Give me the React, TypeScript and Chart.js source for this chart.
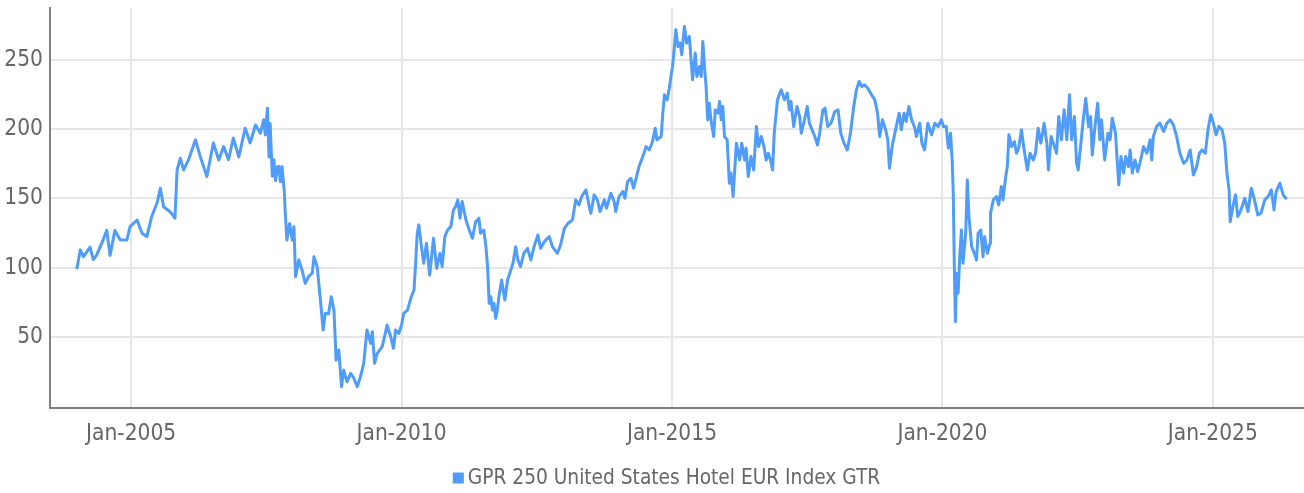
import React, { useEffect, useRef } from "react";
import { Chart, registerables } from "chart.js";

Chart.register(...registerables);

const seriesLabel = "GPR 250 United States Hotel EUR Index GTR";
const xTickYears = [2005, 2010, 2015, 2020, 2025];
const yTickValues = [50, 100, 150, 200, 250];

// dates as decimal years
const dates2004to2011 = [
  2004.0, 2004.06, 2004.12, 2004.24, 2004.3, 2004.36, 2004.46, 2004.55, 2004.61, 2004.7,
  2004.8, 2004.92, 2004.98, 2005.11, 2005.2, 2005.29, 2005.38, 2005.48, 2005.54, 2005.6,
  2005.72, 2005.81, 2005.85, 2005.91, 2005.97, 2006.06, 2006.19, 2006.28, 2006.4, 2006.52,
  2006.62, 2006.71, 2006.8, 2006.89, 2006.99, 2007.11, 2007.2, 2007.3, 2007.39, 2007.45,
  2007.48, 2007.52, 2007.55, 2007.57, 2007.61, 2007.64, 2007.67, 2007.71, 2007.73, 2007.76,
  2007.79, 2007.83, 2007.85, 2007.88, 2007.93, 2007.98, 2008.01, 2008.04, 2008.1, 2008.16,
  2008.22, 2008.28, 2008.35, 2008.38, 2008.44, 2008.5, 2008.55, 2008.59, 2008.65, 2008.7,
  2008.75, 2008.79, 2008.84, 2008.89, 2008.93, 2008.99, 2009.06, 2009.12, 2009.18, 2009.24,
  2009.3, 2009.36, 2009.43, 2009.46, 2009.5, 2009.55, 2009.64, 2009.7, 2009.73, 2009.8,
  2009.85, 2009.89, 2009.95, 2010.0, 2010.04, 2010.11, 2010.17, 2010.23, 2010.26, 2010.29,
  2010.32, 2010.36, 2010.41, 2010.46, 2010.52, 2010.59, 2010.65, 2010.71, 2010.75, 2010.8,
  2010.85, 2010.91, 2010.96, 2011.0, 2011.04, 2011.08, 2011.12, 2011.19, 2011.25, 2011.31,
  2011.37, 2011.43,
];
const values2004to2011 = [
  100, 112.9, 108, 115, 106, 109, 118, 127, 109, 127,
  120, 120, 129.7, 134.5, 125, 122.5, 137, 146.8, 157.4, 144,
  140.5, 135.8, 170.6, 179, 170.6, 177.8, 192.3, 180, 165.8, 190,
  177.8, 187.4, 178, 193.5, 180, 200.7, 190, 203, 197, 206.7,
  195.8, 215, 180, 204, 166, 178, 163, 173, 173, 162,
  173, 156, 139.4, 120, 132, 120, 129.7, 93.7, 105.7, 98.4,
  88.9, 93.7, 96.3, 108, 100.9, 76.8, 55.2, 67.2, 67, 79.2,
  69.6, 33.5, 40.8, 14.3, 26.3, 17.9, 24, 20.3, 14.3, 21.5,
  31.2, 55.2, 45.6, 54, 31.2, 38.4, 43.1, 52.8, 58.8, 50.3,
  42, 55.2, 52.8, 58.8, 67.2, 69.6, 78, 84, 103.3, 125,
  131, 117.7, 103.3, 117.7, 94.8, 121.3, 99.6, 110.5, 100.9, 122.5,
  127.3, 129.7, 141.8, 144.2, 149, 135.8, 147.8, 134.6, 127.3, 121.3,
  133.3, 135.8,
];

const dates2011to2019 = [
  2011.46, 2011.52, 2011.56, 2011.59, 2011.62, 2011.65, 2011.68, 2011.71, 2011.74, 2011.77,
  2011.8, 2011.85, 2011.91, 2011.96, 2012.02, 2012.06, 2012.11, 2012.15, 2012.2, 2012.26,
  2012.33, 2012.39, 2012.45, 2012.52, 2012.57, 2012.64, 2012.73, 2012.79, 2012.88, 2012.94,
  2013.01, 2013.08, 2013.16, 2013.22, 2013.28, 2013.33, 2013.41, 2013.47, 2013.5, 2013.56,
  2013.62, 2013.67, 2013.75, 2013.79, 2013.87, 2013.93, 2013.96, 2014.02, 2014.09, 2014.13,
  2014.18, 2014.24, 2014.29, 2014.33, 2014.39, 2014.46, 2014.52, 2014.58, 2014.64, 2014.69,
  2014.72, 2014.8, 2014.83, 2014.86, 2014.91, 2014.95, 2014.98, 2015.01, 2015.04, 2015.07,
  2015.11, 2015.15, 2015.18, 2015.23, 2015.27, 2015.32, 2015.38, 2015.43, 2015.46, 2015.51,
  2015.54, 2015.57, 2015.6, 2015.63, 2015.66, 2015.69, 2015.72, 2015.77, 2015.8, 2015.85,
  2015.88, 2015.91, 2015.94, 2015.97, 2016.02, 2016.06, 2016.09, 2016.13, 2016.19, 2016.25,
  2016.29, 2016.34, 2016.37, 2016.41, 2016.46, 2016.51, 2016.56, 2016.6, 2016.65, 2016.7,
  2016.74, 2016.78, 2016.82, 2016.86, 2016.89, 2016.95, 2017.02, 2017.08, 2017.13, 2017.17,
  2017.2, 2017.25, 2017.31, 2017.36, 2017.39, 2017.45, 2017.5, 2017.54, 2017.59, 2017.64,
  2017.69, 2017.73, 2017.79, 2017.83, 2017.88, 2017.94, 2018.01, 2018.07, 2018.12, 2018.18,
  2018.24, 2018.3, 2018.36, 2018.41, 2018.46, 2018.51, 2018.56, 2018.62, 2018.69, 2018.75,
  2018.8, 2018.84, 2018.89, 2018.95, 2018.99, 2019.02, 2019.07, 2019.12, 2019.16, 2019.2,
];
const values2011to2019 = [
  125, 127.3, 115.3, 100.9, 74.4, 79.2, 69.6, 74.4, 63.6, 69.6,
  79.2, 91.3, 76.8, 91.3, 98.4, 103.3, 115.3, 105.7, 100.9, 110.5,
  114.1, 105.7, 115.3, 123.7, 114.1, 118.9, 122.5, 115.3, 110.5, 116.5,
  128.5, 132.2, 134.6, 149, 145.4, 151.4, 156.2, 144.2, 139.4, 152.6,
  149, 140.6, 149, 143, 153.8, 147.8, 140.6, 151.4, 155, 150.2,
  162.2, 164.6, 157.4, 163.4, 173, 180.2, 187.4, 185, 191, 200.7,
  192.3, 194.7, 211.5, 224.7, 221.1, 229.5, 237.9, 245.1, 257.2, 271.6,
  259.6, 262, 253.6, 274, 262, 266.8, 235.6, 254.8, 237.9, 245.1,
  237.9, 263.2, 245.1, 230.7, 206.7, 218.7, 206.7, 194.7, 213.9, 211.5,
  219.9, 206.7, 216.3, 194.7, 192.3, 161, 168.3, 151.4, 189.9, 177.8,
  189.9, 177.8, 186.3, 165.8, 180.2, 170.6, 201.9, 187.4, 194.7, 187.4,
  177.8, 182.6, 177.8, 170.6, 197.1, 221.1, 228.3, 221.1, 226, 213.9,
  219.9, 201.9, 216.3, 209.1, 197.1, 206.7, 216.3, 204.3, 199.5, 194.7,
  188.6, 197.1, 213.9, 215.1, 201.9, 204.3, 212.7, 213.9, 197.1, 189.9,
  185, 197.1, 216.3, 228.3, 234.3, 230.7, 231.9, 229.5, 224.7, 221.1,
  211.5, 194.7, 206.7, 199.5, 192.3, 171.8, 187.4, 197.1, 204.3, 211.5,
];

const dates2019to2026 = [
  2019.24, 2019.29, 2019.33, 2019.38, 2019.43, 2019.48, 2019.52, 2019.58, 2019.62, 2019.67,
  2019.73, 2019.8, 2019.86, 2019.92, 2019.98, 2020.02, 2020.07, 2020.11, 2020.15, 2020.18,
  2020.2, 2020.22, 2020.24, 2020.26, 2020.29, 2020.32, 2020.35, 2020.38, 2020.43, 2020.46,
  2020.49, 2020.54, 2020.59, 2020.63, 2020.66, 2020.71, 2020.75, 2020.78, 2020.83, 2020.88,
  2020.89, 2020.94, 2021.0, 2021.04, 2021.09, 2021.12, 2021.17, 2021.2, 2021.23, 2021.28,
  2021.33, 2021.37, 2021.41, 2021.46, 2021.52, 2021.57, 2021.62, 2021.68, 2021.72, 2021.77,
  2021.82, 2021.88, 2021.93, 2021.96, 2022.01, 2022.05, 2022.11, 2022.15, 2022.2, 2022.25,
  2022.3, 2022.35, 2022.39, 2022.44, 2022.48, 2022.51, 2022.56, 2022.61, 2022.65, 2022.7,
  2022.74, 2022.77, 2022.82, 2022.87, 2022.91, 2022.94, 2023.0, 2023.06, 2023.1, 2023.14,
  2023.2, 2023.23, 2023.26, 2023.3, 2023.35, 2023.39, 2023.44, 2023.47, 2023.51, 2023.56,
  2023.61, 2023.65, 2023.72, 2023.78, 2023.84, 2023.87, 2023.9, 2023.96, 2024.02, 2024.09,
  2024.15, 2024.21, 2024.27, 2024.33, 2024.39, 2024.46, 2024.52, 2024.58, 2024.64, 2024.7,
  2024.75, 2024.8, 2024.86, 2024.91, 2024.96, 2025.01, 2025.06, 2025.11, 2025.17, 2025.22,
  2025.26, 2025.3, 2025.32, 2025.37, 2025.42, 2025.46, 2025.52, 2025.59, 2025.65, 2025.71,
  2025.77, 2025.83, 2025.89, 2025.96, 2026.02, 2026.08, 2026.13, 2026.17, 2026.24, 2026.3,
  2026.35,
];
const values2019to2026 = [
  199.5, 211.5, 205.5, 216.3, 206.7, 201.9, 194.7, 204.3, 189.9, 185,
  204.3, 195.9, 204.3, 201.9, 206.7, 201.9, 201.9, 186.3, 197.1, 177.8,
  153.8, 100.9, 61.2, 96.1, 81.7, 108.1, 127.3, 103.3, 125, 163.4,
  136.9, 115.3, 110.5, 105.7, 125, 127.3, 108.1, 122.5, 110.5, 117.7,
  139.4, 149, 151.4, 145.4, 158.6, 149, 165.8, 173, 195.9, 187.4,
  191, 182.6, 186.3, 199.5, 182.6, 170.6, 182.6, 177.8, 182.6, 200.7,
  189.9, 204.3, 189.9, 170.6, 194.7, 189.9, 182.6, 209.1, 192.3, 213.9,
  192.3, 224.7, 192.3, 209.1, 175.4, 170.6, 189.9, 209.1, 222.3, 201.9,
  209.1, 181.4, 201.9, 218.7, 192.3, 206.7, 177.8, 197.1, 192.3, 207.9,
  197.1, 177.8, 159.8, 180.2, 168.3, 180.2, 173, 185, 168.3, 177.8,
  169.4, 175.4, 187.4, 182.6, 192.3, 177.8, 194.7, 201.9, 204.3, 198.3,
  204.3, 206.7, 203.1, 194.7, 182.6, 175.4, 177.8, 185, 167, 173,
  182.6, 185, 182.6, 199.5, 210.3, 204.3, 195.9, 201.9, 199.5, 189.9,
  168.3, 156.2, 133.3, 144.2, 152.6, 136.9, 141.8, 150.2, 140.6, 157.4,
  149, 138.2, 139.4, 149, 151.4, 156.2, 141.8, 155, 161, 152.6,
  150.2,
];

const dates = [...dates2004to2011, ...dates2011to2019, ...dates2019to2026];
const values = [...values2004to2011, ...values2011to2019, ...values2019to2026];

const FONT = "'Liberation Sans Narrow', 'DejaVu Sans Condensed', sans-serif";
const LINE_COLOR = "#4f9cfa";
const TEXT_COLOR = "#666666";

// pick a font size so a sample string reaches a target width
function fitSize(text: string, targetWidth: number): number {
  const c = document.createElement("canvas").getContext("2d");
  if (!c) return 22;
  c.font = `100px ${FONT}`;
  const w = c.measureText(text).width;
  return Math.round((100 * targetWidth) / w * 10) / 10;
}

export default function App() {
  const ref = useRef<HTMLCanvasElement | null>(null);
  useEffect(() => {
    document.body.style.margin = "0";
    const canvas = ref.current;
    if (!canvas) return;
    const tickSize = Math.min(25, fitSize("Jan-2005", 90));
    const legendSize = Math.min(25, fitSize(seriesLabel, 412));

    const legendPlugin = {
      id: "customLegend",
      afterDraw(chart: any) {
        const ctx = chart.ctx;
        ctx.save();
        ctx.font = `${legendSize}px ${FONT}`;
        const tw = ctx.measureText(seriesLabel).width;
        const box = 11;
        const gap = 4;
        const total = box + gap + tw;
        const cx = 666.5;
        const x0 = cx - total / 2;
        const cy = 478;
        ctx.fillStyle = LINE_COLOR;
        ctx.fillRect(x0, cy - box / 2, box, box);
        ctx.fillStyle = TEXT_COLOR;
        ctx.textBaseline = "middle";
        ctx.textAlign = "left";
        ctx.fillText(seriesLabel, x0 + box + gap, cy + 1);
        ctx.restore();
      },
    };

    const chart = new Chart(canvas, {
      type: "line",
      data: {
        datasets: [
          {
            label: seriesLabel,
            data: dates.map((d, i) => ({ x: d, y: values[i] })),
            borderColor: LINE_COLOR,
            backgroundColor: LINE_COLOR,
            borderWidth: 3,
            borderJoinStyle: "round",
            borderCapStyle: "round",
            pointRadius: 0,
            tension: 0,
            fill: false,
          },
        ],
      },
      options: {
        animation: false,
        responsive: false,
        devicePixelRatio: 1,
        layout: { padding: { top: 8, right: 0, left: 0, bottom: 45 } },
        plugins: {
          legend: { display: false },
          tooltip: { enabled: false },
        },
        scales: {
          x: {
            type: "linear",
            min: 2003.5,
            max: 2026.685,
            afterBuildTicks: (scale: any) => {
              scale.ticks = xTickYears.map((v) => ({ value: v }));
            },
            afterFit: (scale: any) => {
              scale.height = 40;
              scale.paddingLeft = 0;
              scale.paddingRight = 0;
            },
            ticks: {
              callback: (v: any) => `Jan-${v}`,
              color: TEXT_COLOR,
              font: { family: FONT, size: tickSize },
              padding: 13,
              maxRotation: 0,
              autoSkip: false,
            },
            grid: { color: "#e6e6e6", lineWidth: 2, drawTicks: false },
            border: { display: true, color: "#808080", width: 2 },
          },
          y: {
            min: -1,
            max: 287.3,
            afterBuildTicks: (scale: any) => {
              scale.ticks = yTickValues.map((v) => ({ value: v }));
            },
            afterFit: (scale: any) => {
              scale.width = 50;
              scale.paddingTop = 0;
              scale.paddingBottom = 0;
            },
            ticks: {
              color: TEXT_COLOR,
              font: { family: FONT, size: tickSize },
              padding: 7,
            },
            grid: { color: "#e6e6e6", lineWidth: 2, drawTicks: false },
            border: { display: true, color: "#808080", width: 2 },
          },
        },
      },
      plugins: [legendPlugin],
    });
    return () => chart.destroy();
  }, []);
  return (
    <div style={{ position: "absolute", left: 0, top: 0, width: 1304, height: 493 }}>
      <canvas ref={ref} width={1304} height={493} style={{ display: "block" }} />
    </div>
  );
}
